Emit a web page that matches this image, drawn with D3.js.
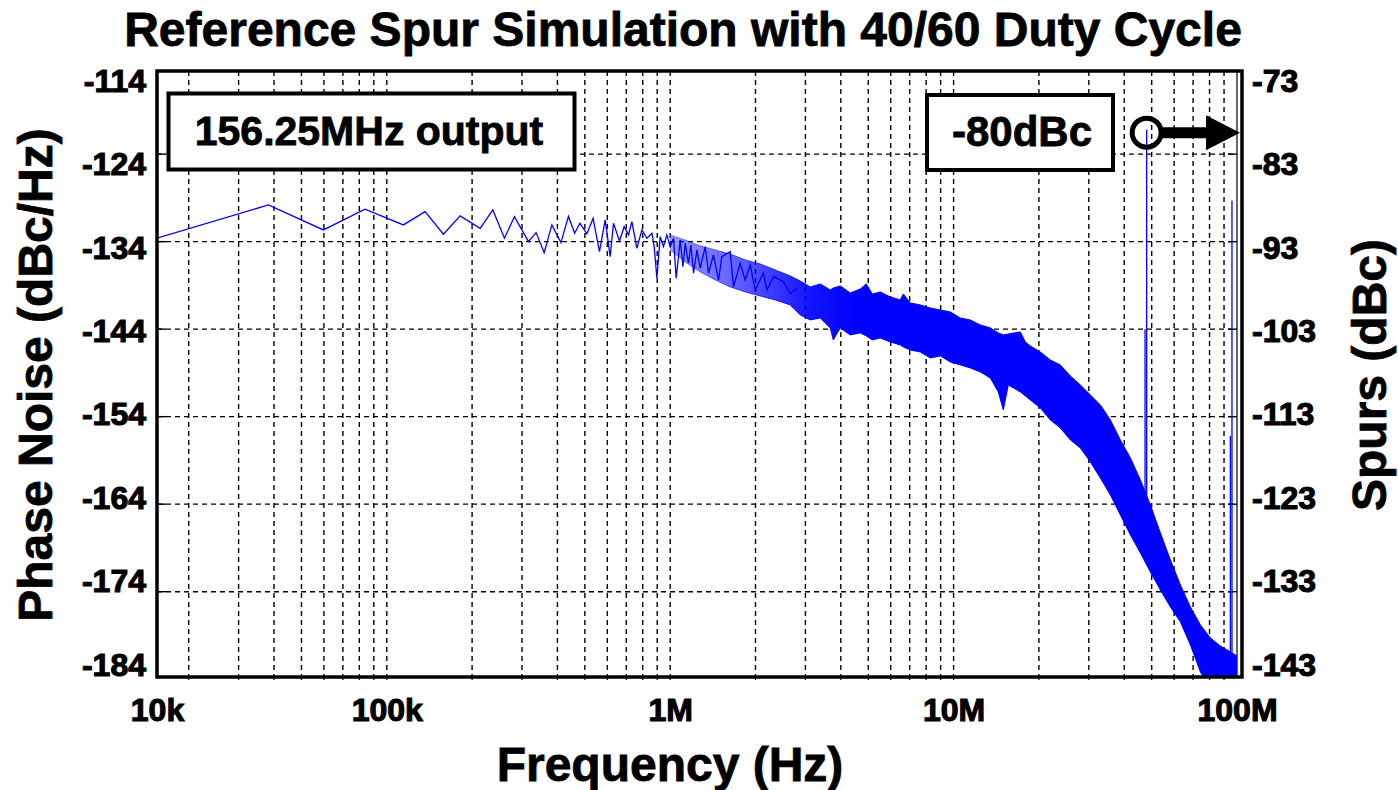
<!DOCTYPE html>
<html><head><meta charset="utf-8">
<script src="https://cdn.jsdelivr.net/npm/d3@7/dist/d3.min.js"></script>
<style>
body{margin:0;background:#fff}
svg{display:block}
text{font-family:"Liberation Sans",Arial,Helvetica,sans-serif;font-weight:bold;fill:#000}
</style>
</head><body>
<svg id="chart" width="1398" height="790"></svg>
<script>
// ---------------- data ----------------
const chartTitle = "Reference Spur Simulation with 40/60 Duty Cycle";
const xTitle = "Frequency (Hz)";
const yTitleLeft = "Phase Noise (dBc/Hz)";
const yTitleRight = "Spurs (dBc)";
const xTickLabels = ["10k", "100k", "1M", "10M", "100M"];
const xTickValues = [1e5, 1e6, 1e7, 1e8];
const leftTickLabels = [-114, -124, -134, -144, -154, -164, -174, -184];
const rightTickLabels = [-73, -83, -93, -103, -113, -123, -133, -143];
const gridDb = [-124, -134, -144, -154, -164, -174];
const spurAxisOffset = 41; // dBc (right) = dBc/Hz (left) + 41
const noteOutput = "156.25MHz output";
const noteSpur = "-80dBc";

// phase noise, individual points of the low-offset region (Hz, dBc/Hz)
const noiseFreq = [15460, 38200, 59750, 83800, 114400, 136500, 158400, 181500, 213500, 236700, 260100, 282100, 316100, 336500, 359200, 382400, 411500, 437500, 460100, 480100, 508200, 534500, 562900, 589700, 614100, 630900, 662200, 688000, 712500, 732500, 763000, 794600, 827600, 861900, 878200, 897600, 921900, 947000, 973400, 1000000, 1027000, 1050000, 1085000, 1109000, 1130000, 1160000, 1183000, 1209000, 1243000, 1276000, 1329000, 1365000, 1421000, 1481000, 1522000, 1628000, 1673000, 1766000, 1840000, 1916000, 1995000, 2130000, 2195000, 2315000, 2511000, 2652000, 2801000];
const noiseDb = [-133.61, -129.81, -132.66, -130.30, -132.09, -130.57, -133.15, -131.06, -132.47, -130.38, -133.61, -131.14, -134.0, -132.97, -135.26, -132.09, -134.11, -131.12, -133.04, -131.90, -133.12, -131.33, -135.14, -131.52, -135.71, -131.90, -133.92, -132.29, -133.23, -131.71, -134.75, -132.66, -133.61, -133.04, -134.57, -138.18, -133.43, -134.57, -133.23, -134.57, -133.61, -138.18, -133.81, -136.86, -134.18, -136.47, -134.38, -137.61, -134.95, -137.04, -134.57, -137.61, -135.52, -138.38, -135.71, -135.14, -139.14, -136.47, -138.38, -136.66, -139.52, -137.58, -139.52, -138.0, -138.57, -139.90, -139.33];

// phase noise, dense high-offset region: upper / lower edge of the noisy band (MHz, dBc/Hz)
const bandFreqMHz = [1.000, 1.1297, 1.2762, 1.4416, 1.6285, 1.8397, 2.0781, 2.3476, 2.6520, 2.8766, 3.1202, 3.3845, 3.6710, 3.7616, 3.9817, 4.3187, 4.6846, 4.9185, 5.1645, 5.5119, 5.9787, 6.4852, 6.6453, 7.0346, 7.6303, 8.2764, 8.9774, 9.735, 10.560, 11.454, 12.424, 13.476, 14.382, 14.979, 15.599, 17.199, 17.912, 18.655, 20.235, 21.948, 23.807, 25.823, 28.010, 30.382, 32.955, 35.746, 38.773, 42.057, 45.618, 49.481, 53.671, 58.216, 63.146, 68.493, 74.293, 80.584, 87.408, 94.810, 100];
const bandHi = [-133.23, -133.81, -134.49, -134.95, -135.41, -136.09, -136.55, -137.23, -137.92, -138.49, -139.18, -138.83, -139.52, -139.29, -139.06, -139.86, -139.41, -138.83, -139.98, -139.75, -140.32, -140.66, -139.98, -141.01, -141.23, -141.58, -141.81, -142.03, -142.72, -142.95, -143.52, -143.86, -144.43, -144.66, -144.55, -144.32, -145.46, -145.92, -146.61, -147.52, -148.09, -149.35, -150.38, -151.52, -152.66, -154.38, -156.66, -158.72, -161.23, -164.09, -167.29, -170.38, -173.23, -175.75, -177.81, -179.29, -180.21, -180.89, -181.35];
const bandLo = [-134.95, -136.32, -137.46, -138.38, -139.18, -139.75, -140.21, -140.66, -141.23, -142.38, -142.95, -142.72, -143.86, -145.23, -143.86, -144.66, -144.43, -144.78, -145.23, -145.01, -145.46, -145.81, -146.03, -146.38, -146.61, -147.29, -147.06, -147.75, -148.09, -148.43, -148.89, -149.58, -151.18, -153.23, -150.38, -151.18, -151.63, -152.09, -153.01, -154.38, -155.29, -156.66, -157.58, -159.18, -161.01, -162.95, -165.23, -167.52, -169.58, -171.75, -173.81, -175.75, -177.46, -180.09, -183.18, -185.23, -186.38, -186.38, -186.38];

// spurs (right axis, dBc)
const spurFreq = [48e6, 96e6];
const spurTop = [-80.2, -88.3];
const spurSkirt = [-103, -115.2];
const spurBase = [-123, -140];

// ---------------- layout ----------------
const plot = {left: 157, right: 1237, frameRight: 1242, top: 71, bottom: 677};
const blue = "#0000ff";

const svg = d3.select("#chart");

const x = d3.scaleLog().domain([15460, 1e8]).range([plot.left, plot.right]);
const y = d3.scaleLinear().domain([-183.75, -114.5]).range([plot.bottom, plot.top]);
const yR = d3.scaleLinear().domain([-183.75 + spurAxisOffset, -114.5 + spurAxisOffset]).range([plot.bottom, plot.top]);
// tick-label placement scales (labels are evenly spread along the axes)
const yLab = d3.scaleLinear().domain([leftTickLabels[0], leftTickLabels[leftTickLabels.length - 1]]).range([81, 665]);
const yLabR = d3.scaleLinear().domain([rightTickLabels[0], rightTickLabels[rightTickLabels.length - 1]]).range([81, 665]);

const defs = svg.append("defs");
defs.append("clipPath").attr("id", "clip")
  .append("rect").attr("x", plot.left).attr("y", plot.top)
  .attr("width", plot.frameRight - plot.left).attr("height", plot.bottom - plot.top);
// the band gets visually denser as the bins crowd together on the log axis
const grad = defs.append("linearGradient").attr("id", "bandFill").attr("gradientUnits", "userSpaceOnUse")
  .attr("x1", x(1e6)).attr("x2", x(4.5e6)).attr("y1", 0).attr("y2", 0);
[[0, 0.4], [0.4, 0.65], [0.75, 0.92], [1, 1]].forEach(([o, a]) =>
  grad.append("stop").attr("offset", o).attr("stop-color", blue).attr("stop-opacity", a));

// ---- grid ----
const grid = svg.append("g");
const vgrid = [];
[1e4, 1e5, 1e6, 1e7].forEach(d => { for (let m = 1; m <= 9; m++) { const v = d * m; if (v > x.domain()[0] && v < 1e8) vgrid.push(v); } });
grid.selectAll("line.v").data(vgrid).join("line")
  .attr("x1", d => x(d)).attr("x2", d => x(d))
  .attr("y1", plot.top).attr("y2", plot.bottom)
  .attr("stroke", "#000").attr("stroke-width", 1.4).attr("stroke-dasharray", "5,4");
grid.selectAll("line.h").data(gridDb).join("line")
  .attr("x1", plot.left).attr("x2", plot.right)
  .attr("y1", d => y(d)).attr("y2", d => y(d))
  .attr("stroke", "#000").attr("stroke-width", 1.4).attr("stroke-dasharray", "5,4");
grid.selectAll("line.tl").data(gridDb).join("line")
  .attr("x1", plot.left).attr("x2", plot.left + 9)
  .attr("y1", d => y(d)).attr("y2", d => y(d)).attr("stroke", "#000").attr("stroke-width", 1.4);
grid.selectAll("line.tr").data(gridDb).join("line")
  .attr("x1", plot.right - 9).attr("x2", plot.right)
  .attr("y1", d => y(d)).attr("y2", d => y(d)).attr("stroke", "#000").attr("stroke-width", 1.4);
grid.append("line").attr("x1", x(1e8)).attr("x2", x(1e8)).attr("y1", plot.top).attr("y2", plot.bottom)
  .attr("stroke", "#000").attr("stroke-width", 1.2);

// ---- data marks ----
const data = svg.append("g").attr("clip-path", "url(#clip)");
const band = bandFreqMHz.map((f, i) => ({f: f * 1e6, hi: bandHi[i], lo: bandLo[i]}));
data.append("path").datum(band)
  .attr("d", d3.area().x(d => x(d.f)).y0(d => y(d.lo)).y1(d => y(d.hi)))
  .attr("fill", "url(#bandFill)").attr("stroke", "none");
["hi", "lo"].forEach(k => data.append("path").datum(band)
  .attr("d", d3.line().x(d => x(d.f)).y(d => y(d[k])))
  .attr("fill", "none").attr("stroke", "url(#bandFill)").attr("stroke-width", 1));
const noise = noiseFreq.map((f, i) => ({f, v: noiseDb[i]}));
data.append("path").datum(noise)
  .attr("d", d3.line().x(d => x(d.f)).y(d => y(d.v)))
  .attr("fill", "none").attr("stroke", blue).attr("stroke-width", 1.3);
spurFreq.forEach((f, i) => {
  data.append("line").attr("x1", x(f)).attr("x2", x(f))
    .attr("y1", yR(spurTop[i])).attr("y2", yR(spurBase[i]))
    .attr("stroke", blue).attr("stroke-width", 1.3);
  data.append("line").attr("x1", x(f) - 1.6).attr("x2", x(f) - 1.6)
    .attr("y1", yR(spurSkirt[i])).attr("y2", yR(spurBase[i]))
    .attr("stroke", blue).attr("stroke-width", 1.3);
});

// ---- frame ----
svg.append("rect").attr("x", plot.left).attr("y", plot.top)
  .attr("width", plot.frameRight - plot.left).attr("height", plot.bottom - plot.top)
  .attr("fill", "none").attr("stroke", "#000").attr("stroke-width", 3.5);

// ---- axes (labels) ----
const fmt = d => String(d);
const axL = svg.append("g").attr("transform", `translate(148,0)`)
  .call(d3.axisLeft(yLab).tickValues(leftTickLabels).tickSize(0).tickPadding(2).tickFormat(fmt));
const axR = svg.append("g").attr("transform", `translate(1250,0)`)
  .call(d3.axisRight(yLabR).tickValues(rightTickLabels).tickSize(0).tickPadding(2).tickFormat(fmt));
const axB = svg.append("g").attr("transform", `translate(0,${plot.bottom})`)
  .call(d3.axisBottom(x).tickValues([x.domain()[0], ...xTickValues]).tickSize(0).tickPadding(21)
    .tickFormat((d, i) => xTickLabels[i]));
[axL, axR, axB].forEach(a => {
  a.select(".domain").remove();
  a.attr("font-family", "Liberation Sans, Arial, sans-serif").attr("font-size", 32).attr("font-weight", "bold");
  a.selectAll("text").style("font-size", "32px").style("font-weight", "700")
    .style("font-family", "'Liberation Sans', Arial, sans-serif")
    .attr("fill", "#000").attr("stroke", "#000").attr("stroke-width", 1.1);
});
svg.append("g").selectAll("line").data(vgrid).join("line")
  .attr("x1", d => x(d)).attr("x2", d => x(d)).attr("y1", plot.bottom).attr("y2", plot.bottom + 3)
  .attr("stroke", "#000").attr("stroke-width", 1.2);

// ---- titles ----
const big = sel => sel.attr("stroke", "#000").attr("stroke-width", 0.8);
big(svg.append("text").attr("x", 683).attr("y", 46).attr("text-anchor", "middle")
  .attr("font-size", 48).text(chartTitle));
big(svg.append("text").attr("x", 670).attr("y", 781).attr("text-anchor", "middle")
  .attr("font-size", 48).text(xTitle));
big(svg.append("text").attr("transform", "translate(52,375) rotate(-90)").attr("text-anchor", "middle")
  .attr("font-size", 48).text(yTitleLeft));
big(svg.append("text").attr("transform", "translate(1386,375) rotate(-90)").attr("text-anchor", "middle")
  .attr("font-size", 48).text(yTitleRight));

// ---- annotations ----
svg.append("rect").attr("x", 168.5).attr("y", 93.5).attr("width", 406).attr("height", 76)
  .attr("fill", "#fff").attr("stroke", "#000").attr("stroke-width", 4);
big(svg.append("text").attr("x", 369).attr("y", 145).attr("text-anchor", "middle")
  .attr("font-size", 41).text(noteOutput));
svg.append("rect").attr("x", 927).attr("y", 95).attr("width", 186).attr("height", 75)
  .attr("fill", "#fff").attr("stroke", "#000").attr("stroke-width", 4);
big(svg.append("text").attr("x", 1022).attr("y", 146).attr("text-anchor", "middle")
  .attr("font-size", 42).text(noteSpur));
const spurX = x(spurFreq[0]), spurY = yR(spurTop[0]) + 3;
svg.append("circle").attr("cx", spurX).attr("cy", spurY).attr("r", 14.5)
  .attr("fill", "none").attr("stroke", "#000").attr("stroke-width", 5);
svg.append("line").attr("x1", spurX + 16).attr("x2", 1210).attr("y1", spurY).attr("y2", spurY)
  .attr("stroke", "#000").attr("stroke-width", 11);
svg.append("path").attr("d", `M1206,${spurY - 17.5}L1240,${spurY}L1206,${spurY + 17.5}Z`).attr("fill", "#000");
</script>
</body></html>
